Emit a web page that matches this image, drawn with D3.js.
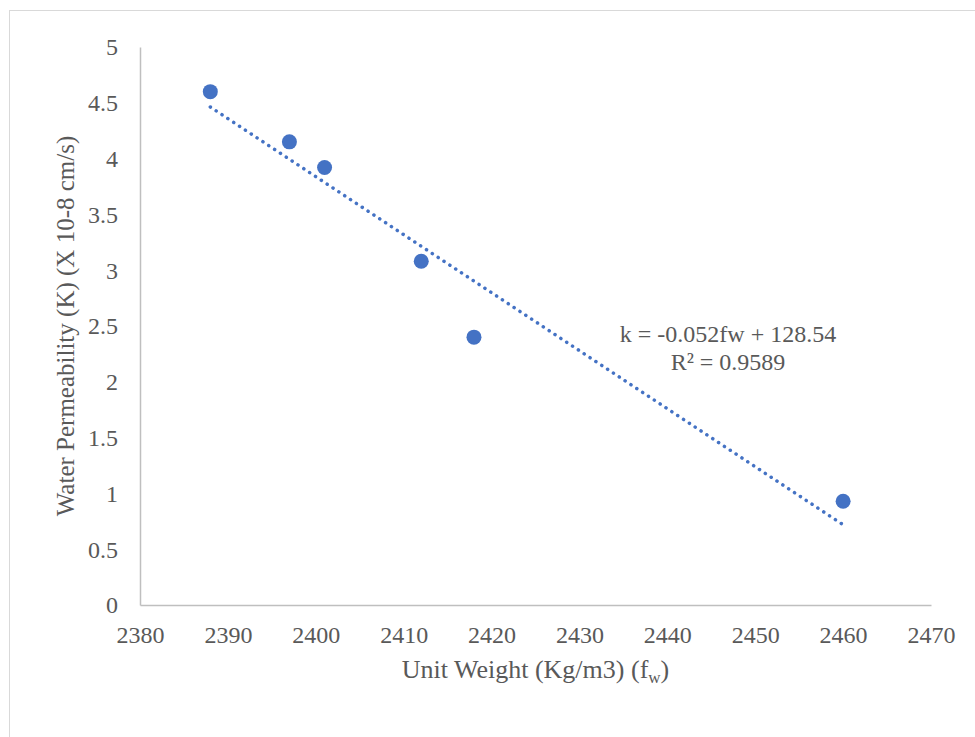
<!DOCTYPE html>
<html>
<head>
<meta charset="utf-8">
<script src="https://cdn.jsdelivr.net/npm/d3@7"></script>
<style>
  body { margin: 0; background: #fff; }
</style>
</head>
<body>
<svg id="chart" width="975" height="737"></svg>
<script>
// data
const unitWeight = [2388, 2397, 2401, 2412, 2418, 2460];
const permeability = [4.6, 4.15, 3.92, 3.08, 2.4, 0.93];
const xTicks = [2380, 2390, 2400, 2410, 2420, 2430, 2440, 2450, 2460, 2470];
const yTicks = [0, 0.5, 1, 1.5, 2, 2.5, 3, 3.5, 4, 4.5, 5];
const eqLines = ["k = -0.052fw + 128.54", "R\u00B2 = 0.9589"];

let serif = "Liberation Serif";
let textCol = "#595959";

// plot area
let margin = {left: 140, top: 47, right: 44, bottom: 132};
let W = 975, H = 737;

let svg = d3.select("#chart");

// outer chart border
svg.append("rect")
  .attr("x", 9.5)
  .attr("y", 10.5)
  .attr("width", 1000)
  .attr("height", 1000)
  .attr("fill", "none")
  .attr("stroke", "#d9d9d9")
  .attr("stroke-width", 1);

let x = d3.scaleLinear()
  .domain([2380, 2470])
  .range([margin.left, W - margin.right]);

let y = d3.scaleLinear()
  .domain([0, 5])
  .range([H - margin.bottom, margin.top]);

//axes
let xAxis = svg.append("g")
  .attr("transform", `translate(0,${y(0)})`)
  .call(d3.axisBottom(x).tickValues(xTicks).tickSize(0).tickPadding(28).tickFormat(d3.format("d")));

let yAxis = svg.append("g")
  .attr("transform", `translate(${x(2380)},0)`)
  .call(d3.axisLeft(y).tickValues(yTicks).tickSize(0).tickPadding(22).tickFormat(d => d));

[xAxis, yAxis].forEach(a => {
  a.attr("font-family", serif).attr("font-size", 24);
  a.select(".domain").attr("stroke", "#bfbfbf").attr("stroke-width", 1.5);
  a.selectAll("text")
    .style("font-family", serif)
    .style("font-size", "24px")
    .style("fill", textCol);
});
xAxis.selectAll("text").attr("dy", "0").attr("y", 38);
yAxis.selectAll("text").attr("dy", "0.33em");

// trendline (least squares, like the spreadsheet does)
let mx = d3.mean(unitWeight), my = d3.mean(permeability);
let sxy = d3.sum(unitWeight, (d, i) => (d - mx) * (permeability[i] - my));
let sxx = d3.sum(unitWeight, d => (d - mx) * (d - mx));
let slope = sxy / sxx;
let icpt = my - slope * mx;
let xr = d3.extent(unitWeight);

svg.append("line")
  .attr("x1", x(xr[0]))
  .attr("y1", y(slope * xr[0] + icpt))
  .attr("x2", x(xr[1]))
  .attr("y2", y(slope * xr[1] + icpt))
  .attr("stroke", "#4472c4")
  .attr("stroke-width", 3.5)
  .attr("stroke-linecap", "round")
  .attr("stroke-dasharray", "0.1 6.9");

// points
svg.append("g")
  .selectAll("circle")
  .data(unitWeight)
  .enter()
  .append("circle")
  .attr("cx", d => x(d))
  .attr("cy", (d, i) => y(permeability[i]))
  .attr("r", 7.5)
  .attr("fill", "#4472c4");

// equation label
eqLines.forEach((t, i) => {
  svg.append("text")
    .attr("x", 728)
    .attr("y", 342 + i * 28)
    .attr("text-anchor", "middle")
    .style("font-family", serif)
    .style("font-size", "24px")
    .style("fill", textCol)
    .text(t);
});

// axis titles
let xt = svg.append("text")
  .attr("x", (x(2380) + x(2470)) / 2)
  .attr("y", 678)
  .attr("text-anchor", "middle")
  .style("font-family", serif)
  .style("font-size", "26px")
  .style("fill", textCol);
xt.append("tspan").text("Unit Weight (Kg/m3) (f");
xt.append("tspan").style("font-size", "17px").attr("dy", 5).text("w");
xt.append("tspan").attr("dy", -5).text(")");

svg.append("text")
  .attr("transform", `translate(74,${(y(0) + y(5)) / 2}) rotate(-90)`)
  .attr("text-anchor", "middle")
  .style("font-family", serif)
  .style("font-size", "25px")
  .style("fill", textCol)
  .text("Water Permeability (K) (X 10-8 cm/s)");
</script>
</body>
</html>
